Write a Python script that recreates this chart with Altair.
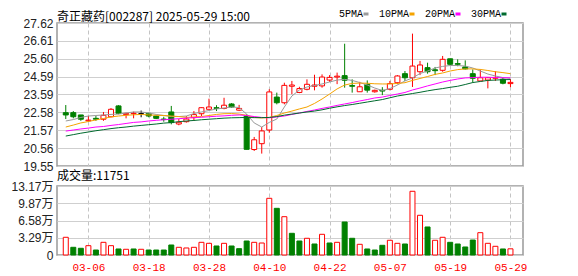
import altair as alt
import pandas as pd

dates = ["03-03","03-04","03-05","03-06","03-07","03-10","03-11","03-12","03-13","03-14",
         "03-17","03-18","03-19","03-20","03-21","03-24","03-25","03-26","03-27","03-28",
         "03-31","04-01","04-02","04-03","04-07","04-08","04-09","04-10","04-11","04-14",
         "04-15","04-16","04-17","04-18","04-21","04-22","04-23","04-24","04-25","04-28",
         "04-29","04-30","05-06","05-07","05-08","05-09","05-12","05-13","05-14","05-15",
         "05-16","05-19","05-20","05-21","05-22","05-23","05-26","05-27","05-28","05-29"]

opens = [22.56,22.56,22.43,22.10,22.24,22.19,22.33,22.94,22.45,22.50,
         22.50,22.52,22.37,22.20,22.60,21.92,22.05,22.28,22.50,22.75,
         22.84,22.80,23.05,22.70,22.37,20.48,20.81,21.58,23.44,23.12,
         24.05,23.70,23.88,24.05,24.07,24.40,24.57,24.65,24.09,23.74,
         24.16,23.74,23.82,23.88,24.25,24.76,24.53,24.87,25.10,24.98,
         24.95,25.60,25.33,25.14,24.76,24.35,24.40,24.50,24.45,24.20]
highs = [22.99,22.65,22.43,22.37,22.37,22.60,22.82,22.98,22.55,22.62,
         22.68,22.55,22.40,22.33,22.94,22.20,22.37,22.65,22.86,23.35,
         22.98,23.40,23.10,23.00,22.47,21.19,21.75,23.88,23.69,24.25,
         24.35,24.02,24.44,24.70,24.72,24.68,24.82,26.45,24.44,24.30,
         24.38,23.86,24.00,24.35,24.68,24.91,27.02,25.48,25.38,25.14,
         25.76,25.60,25.57,25.51,25.00,25.00,24.55,24.90,24.57,24.45]
lows = [22.20,22.24,22.10,22.05,22.10,22.10,22.30,22.47,22.24,22.24,
        22.30,22.30,22.20,22.05,21.90,21.85,22.00,22.10,22.37,22.75,
        22.65,22.75,22.84,22.65,20.49,20.40,20.25,21.43,23.03,23.03,
        23.60,23.66,23.82,23.82,23.97,24.30,24.17,23.97,23.69,23.74,
        23.69,23.69,23.55,23.82,24.16,24.35,24.01,24.68,24.76,24.68,
        24.87,25.23,25.18,25.00,24.25,24.35,23.93,24.35,24.16,24.00]
closes = [22.43,22.33,22.19,22.14,22.19,22.41,22.75,22.52,22.52,22.53,
          22.50,22.37,22.24,22.17,22.00,22.02,22.20,22.45,22.84,22.88,
          22.80,22.98,22.88,22.80,20.49,21.03,21.53,23.73,23.12,24.10,
          24.12,23.92,24.16,24.12,24.57,24.55,24.62,24.39,24.05,24.02,
          23.83,23.82,23.78,24.20,24.63,24.53,25.19,25.25,24.87,24.93,
          25.57,25.29,25.29,25.03,24.50,24.53,24.53,24.55,24.22,24.27]

ma5 = [22.09,22.17,22.29,22.37,22.40,22.43,22.46,22.48,22.54,22.60,
       22.60,22.54,22.46,22.40,22.34,22.34,22.37,22.51,22.60,22.68,
       22.77,22.82,22.88,22.85,22.48,21.98,21.75,22.01,22.20,22.88,
       23.50,23.84,24.01,24.09,24.18,24.29,24.40,24.44,24.38,24.26,
       24.12,23.95,23.81,23.92,24.12,24.35,24.52,24.77,24.91,25.08,
       25.17,25.22,25.22,25.19,25.08,24.91,24.74,24.63,24.54,24.49]
ma10 = [21.75,21.86,21.98,22.06,22.15,22.23,22.32,22.37,22.41,22.44,
        22.46,22.43,22.41,22.40,22.37,22.34,22.29,22.32,22.34,22.40,
        22.46,22.50,22.51,22.48,22.41,22.29,22.26,22.29,22.40,22.54,
        22.65,22.77,22.88,23.08,23.33,23.61,23.90,24.12,24.21,24.23,
        24.22,24.19,24.18,24.18,24.21,24.25,24.38,24.49,24.60,24.72,
        24.80,24.91,24.99,25.03,25.03,25.00,24.94,24.87,24.82,24.76]
ma20 = [21.52,21.58,21.64,21.69,21.75,21.78,21.84,21.89,21.95,22.01,
        22.04,22.09,22.13,22.16,22.19,22.22,22.25,22.28,22.30,22.33,
        22.36,22.38,22.41,22.43,22.40,22.34,22.29,22.27,22.32,22.37,
        22.46,22.54,22.63,22.71,22.80,22.88,22.97,23.05,23.13,23.22,
        23.30,23.39,23.44,23.53,23.61,23.70,23.84,23.95,24.07,24.18,
        24.29,24.38,24.46,24.52,24.54,24.56,24.56,24.54,24.53,24.53]
ma30 = [21.24,21.32,21.40,21.47,21.54,21.60,21.66,21.71,21.75,21.80,
        21.84,21.88,21.92,21.97,22.00,22.05,22.09,22.12,22.16,22.19,
        22.22,22.25,22.27,22.28,22.29,22.28,22.28,22.29,22.34,22.42,
        22.48,22.54,22.60,22.65,22.72,22.81,22.89,22.96,23.02,23.09,
        23.16,23.23,23.30,23.40,23.50,23.57,23.64,23.71,23.79,23.86,
        23.92,23.99,24.05,24.15,24.26,24.32,24.38,24.40,24.42,24.43]

# volume in 万 (10k shares); direction
volumes = [3.38,1.47,1.28,1.78,0.95,2.42,1.78,1.15,1.09,1.15,
           1.09,0.95,0.95,0.95,1.91,1.47,1.34,1.47,2.42,2.23,
           1.72,2.23,1.72,1.21,2.67,2.42,2.29,10.82,8.91,7.31,
           4.14,2.67,3.19,2.10,3.95,2.29,2.42,6.30,3.19,2.04,
           1.15,0.95,1.85,2.81,2.23,2.10,12.16,7.58,5.35,2.81,
           3.38,2.42,2.10,1.53,2.86,4.26,2.23,1.66,1.15,1.18]
vol_dir = "RGGRGRRGRGRGGGGRRRRRGRGGGRRRGRGGRGRGRGGRGGGRRGRRGRRGGGGRRRGR"

tick_idx = [3, 11, 19, 27, 35, 43, 51, 59]
price_ticks = [19.55, 20.56, 21.57, 22.58, 23.59, 24.59, 25.60, 26.61, 27.62]
vol_ticks = [0, 3.29, 6.58, 9.87, 13.17]
ma_names = ["5PMA", "10PMA", "20PMA", "30PMA"]
ma_colors = ["#9a9a9a", "#f5a300", "#ff00ff", "#006a2e"]

RED, GREEN, BLACK = "#ff0000", "#008000", "#000000"

cdf = pd.DataFrame({"i": range(len(dates)), "date": dates, "open": opens,
                    "high": highs, "low": lows, "close": closes})
cdf["stroke"] = [RED if c > o else (GREEN if c < o else BLACK) for o, c in zip(opens, closes)]
cdf["fill"] = ["#ffffff" if s == RED else s for s in cdf["stroke"]]

vdf = pd.DataFrame({"i": range(len(dates)), "vol": volumes})
vdf["stroke"] = [RED if d == "R" else GREEN for d in vol_dir]
vdf["fill"] = ["#ffffff" if d == "R" else GREEN for d in vol_dir]

rows = []
for name, arr in zip(ma_names, [ma5, ma10, ma20, ma30]):
    for k, v in enumerate(arr):
        rows.append({"i": k, "name": name, "value": v})
mdf = pd.DataFrame(rows)

xscale = alt.Scale(domain=[-0.5, 60], nice=False, zero=False)
yscale = alt.Scale(domain=[19.55, 27.62], nice=False, zero=False)

AXF = "Liberation Sans"
xaxis_top = alt.Axis(values=tick_idx, labels=False, ticks=False, domain=False,
                     grid=True, gridDash=[4, 3], gridColor="#c4c4c4", title=None)
yaxis_top = alt.Axis(values=price_ticks, format=".2f", ticks=False, domain=False,
                     grid=True, gridColor="#cfcfcf", labelFont=AXF, labelFontSize=12,
                     labelColor="#222222", labelPadding=4, title=None)

X = alt.X("i:Q", scale=xscale, axis=xaxis_top)

wick = alt.Chart(cdf).mark_rule(strokeWidth=1).encode(
    x=X,
    y=alt.Y("low:Q", scale=yscale, axis=yaxis_top),
    y2="high:Q",
    stroke=alt.Stroke("stroke:N", scale=None),
)
body = alt.Chart(cdf).mark_bar(size=5, strokeWidth=1).encode(
    x=X,
    y=alt.Y("open:Q", scale=yscale, axis=yaxis_top),
    y2="close:Q",
    fill=alt.Fill("fill:N", scale=None),
    stroke=alt.Stroke("stroke:N", scale=None),
)
lines = alt.Chart(mdf).mark_line(strokeWidth=1).encode(
    x=X,
    y=alt.Y("value:Q", scale=yscale, axis=yaxis_top),
    color=alt.Color("name:N", sort=ma_names,
                    scale=alt.Scale(domain=ma_names, range=ma_colors),
                    legend=alt.Legend(orient="none", legendX=304, legendY=-14,
                                      direction="horizontal", title=None,
                                      symbolType="M-1,0L1,0", symbolSize=25,
                                      symbolStrokeWidth=3, labelAlign="right",
                                      labelOffset={"expr": "-8"}, columnPadding=3,
                                      labelFont="Liberation Mono", labelFontSize=10,
                                      labelColor="#000000")),
)

top = alt.layer(wick, body, lines).properties(
    width=466, height=143,
    title=alt.TitleParams("奇正藏药[002287] 2025-05-29 15:00", anchor="start", frame="group",
                          font="Noto Sans CJK SC", fontSize=12, fontWeight="normal",
                          color="#000000", offset=-7),
)

xaxis_bot = alt.Axis(values=tick_idx, ticks=False, domain=False, grid=True,
                     gridDash=[4, 3], gridColor="#c4c4c4", title=None,
                     labelExpr="[" + ",".join("'" + d + "'" for d in dates) + "][datum.value]",
                     labelColor="#ff0000", labelFont="Liberation Mono", labelFontSize=11,
                     labelPadding=6, labelFlush=False)
vaxis = alt.Axis(values=vol_ticks, ticks=False, domain=False, grid=True,
                 gridColor="#cfcfcf", labelFont="Liberation Sans, Noto Sans CJK SC",
                 labelFontSize=12, labelColor="#222222", labelPadding=4, title=None,
                 labelExpr="datum.value == 0 ? '0' : format(datum.value, '.2f') + '万'")

vol = alt.Chart(vdf).mark_bar(size=5, strokeWidth=1).encode(
    x=alt.X("i:Q", scale=xscale, axis=xaxis_bot),
    y=alt.Y("vol:Q", scale=alt.Scale(domain=[0, 13.17], nice=False), axis=vaxis),
    fill=alt.Fill("fill:N", scale=None),
    stroke=alt.Stroke("stroke:N", scale=None),
).properties(
    width=466, height=69,
    title=alt.TitleParams("成交量:11751", anchor="start", frame="group",
                          font="Noto Sans CJK SC", fontSize=12, fontWeight="normal",
                          color="#000000", offset=-3),
)

chart = alt.vconcat(top, vol, spacing=-4).properties(
    padding={"left": 2, "top": 1, "right": 5, "bottom": 0},
    background="#ffffff",
).configure_view(stroke="#999999", strokeWidth=1.5)

chart.save("out.html", embed_options={"renderer": "svg", "actions": False})
